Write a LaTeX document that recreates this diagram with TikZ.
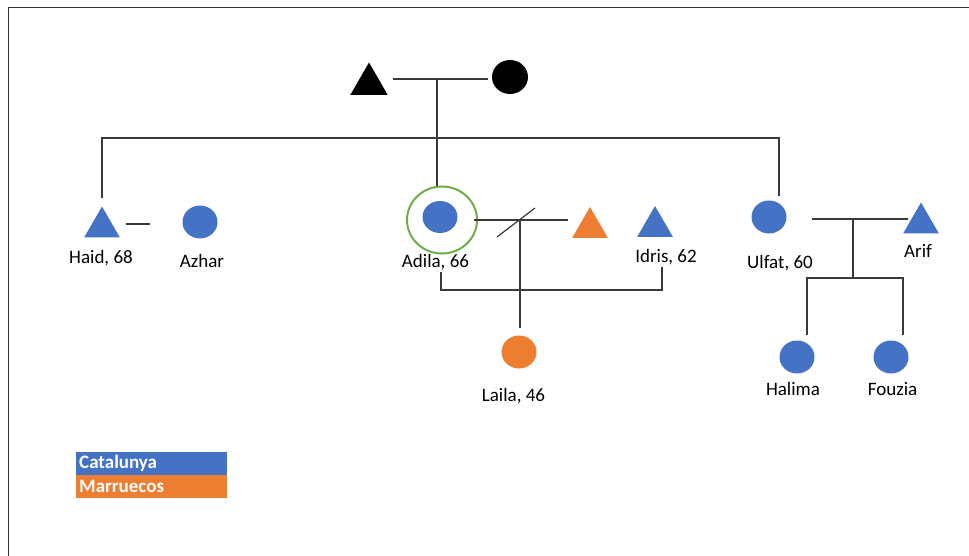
\documentclass[tikz,border=0pt]{standalone}
\usepackage{fontspec}
\setmainfont{Carlito}
\usetikzlibrary{shapes.geometric,calc}
\definecolor{famblue}{HTML}{4472C4}
\definecolor{famorange}{HTML}{ED7D31}
\definecolor{ringgreen}{HTML}{70AD47}
\definecolor{linegray}{HTML}{3A3A3A}

\begin{document}
\begin{tikzpicture}[x=1pt,y=-1pt,
  kin/.style={draw=linegray, line width=1.2pt},
  female/.style={ellipse, fill=#1, inner sep=0pt, minimum width=35pt, minimum height=33pt},
  male/.style={regular polygon, regular polygon sides=3, fill=#1, inner sep=0pt, minimum size=41pt},
  lbl/.style={anchor=base, inner sep=0pt, font=\fontsize{19}{22}\selectfont, text=black},
  legendbox/.style={anchor=north west, minimum height=23pt, text width=145pt, align=left,
    inner xsep=3pt, inner ysep=0pt, text=white, font=\fontsize{19}{22}\selectfont\bfseries}]

\useasboundingbox (0,0) rectangle (969,555);
\fill[white] (0,0) rectangle (969,555);
% frame of the page
\draw[line width=1.5pt, draw=black!80] (8.5,570) -- (8.5,7.5) -- (985,7.5);

% people
\node[male=black, minimum size=43pt] (father) at (369,84) {};
\node[female=black, minimum width=36pt, minimum height=34pt] (mother) at (510,77) {};
\node[male=famblue] (haid) at (102,227) {};
\node[female=famblue] (azhar) at (200,222) {};
\node[female=famblue, minimum width=35pt, minimum height=32pt] (adila) at (440,217) {};
\node[draw=ringgreen, line width=2pt, ellipse, inner sep=0pt, minimum width=70pt, minimum height=67pt] (index) at (442,220) {};
\node[male=famorange] (expartner) at (590,227.5) {};
\node[male=famblue] (idris) at (655,226.5) {};
\node[female=famorange] (laila) at (519,352) {};
\node[female=famblue] (ulfat) at (769,217) {};
\node[male=famblue] (arif) at (921,223) {};
\node[female=famblue] (halima) at (797,357) {};
\node[female=famblue] (fouzia) at (891,357) {};

% names
\node[lbl] (haidlabel) at (101,263) {Haid, 68};
\node[lbl] (azharlabel) at (202,267) {Azhar};
\node[lbl] (adilalabel) at (435.5,267) {Adila, 66};
\node[lbl] (idrislabel) at (666,262) {Idris, 62};
\node[lbl] (lailalabel) at (513.5,401) {Laila, 46};
\node[lbl] (ulfatlabel) at (780,268) {Ulfat, 60};
\node[lbl] (ariflabel) at (918,257) {Arif};
\node[lbl] (halimalabel) at (793,395) {Halima};
\node[lbl] (fouzialabel) at (892.5,395) {Fouzia};

% junction points
\coordinate (parentsmid) at (437,79);
\coordinate (sibbar) at (437,138);
\coordinate (divorce) at (520,220);
\coordinate (bracket) at (550,290);
\coordinate (ulfatmid) at (853,219);
\coordinate (ulfatbar) at (853,278);

% parents and their children
\draw[kin] ($(father.center)+(24,-5)$) -- ($(mother.west)+(-4,2)$);
\draw[kin] (parentsmid) -- (parentsmid |- index.north);
\draw[kin] ($(haid.north)+(0,-8)$) |- (sibbar) -| ($(ulfat.north)+(10,-4)$);

% Haid and Azhar
\draw[kin] ($(haid.center)+(24,-3)$) -- ($(azhar.west)+(-32,2)$);

% Adila, former partner and Laila
\draw[kin] ($(index.east)+(-4,0)$) -- ($(expartner.center)+(-22,-7.5)$);
\draw[kin] ($(divorce)+(-23,17)$) -- ($(divorce)+(15,-12)$);
\draw[kin] (divorce) -- ($(laila.north)+(1,-7)$);

% Adila and Idris
\draw[kin] ($(adilalabel.base)+(5.5,5)$) |- (bracket) -| ($(idrislabel.base)+(-4,5)$);

% Ulfat, Arif and daughters
\draw[kin] ($(ulfat.east)+(25,2)$) -- ($(arif.center)+(-13,-4)$);
\draw[kin] (ulfatmid) -- (ulfatbar);
\draw[kin] ($(halima.north)+(10,-5)$) |- (ulfatbar) -| ($(fouzia.north)+(12,-5)$);

% legend
\node[legendbox, fill=famblue] (catalunya) at (76,452) {Catalunya};
\node[legendbox, fill=famorange] (marruecos) at (76,475) {Marruecos};

\end{tikzpicture}
\end{document}
